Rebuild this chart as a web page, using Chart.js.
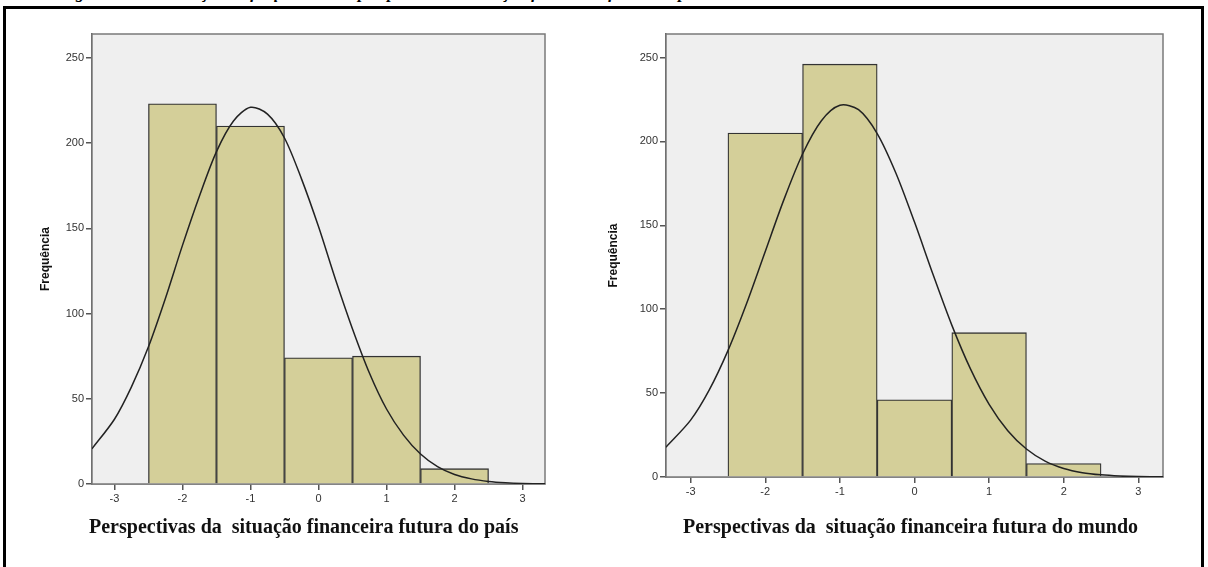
<!DOCTYPE html>
<html>
<head>
<meta charset="utf-8">
<script src="https://cdn.jsdelivr.net/npm/chart.js@4/dist/chart.umd.min.js"></script>
<style>
  body { margin: 0; width: 1208px; height: 567px; background: #fff; overflow: hidden; position: relative; }
  .caption { position: absolute; left: 60px; top: -17px; font: italic bold 17px "Liberation Serif", serif; white-space: pre; }
  .frame { position: absolute; left: 3px; top: 6px; width: 1195px; height: 600px; border: 3px solid #000; background: #fff; }
  canvas { position: absolute; top: 0; }
  #cPais { left: 0; }
  #cMundo { left: 575px; }
  .xtitle { position: absolute; top: 515px; font: bold 20px "Liberation Serif", serif; white-space: pre; color: #111; }
</style>
</head>
<body>
<div class="caption">Figura 2 – Distribuição de frequência das perspectivas da situação financeira futura do país e do mundo</div>
<div class="frame"></div>
<canvas id="cPais" width="600" height="520"></canvas>
<canvas id="cMundo" width="633" height="520"></canvas>
<div class="xtitle" style="left:89px">Perspectivas da  situação financeira futura do país</div>
<div class="xtitle" style="left:683px">Perspectivas da  situação financeira futura do mundo</div>

<script>
const binCenters = [-2, -1, 0, 1, 2];
const paisFreq = [223, 210, 74, 75, 9];
const mundoFreq = [205, 246, 46, 86, 8];

// normal curve
const curveX = [-3.33, -3, -2.75, -2.5, -2.25, -2, -1.75, -1.5, -1.25, -1, -0.75, -0.5, -0.25,
                0, 0.25, 0.5, 0.75, 1, 1.25, 1.5, 1.75, 2, 2.25, 2.5, 2.75, 3, 3.33];
const paisCurve = [20.7, 38, 57, 80.5, 109, 140, 169, 195, 213, 221, 217, 203, 179,
                   151, 120, 91, 65, 44, 28.7, 17.6, 10.2, 5.6, 3, 1.5, 0.7, 0.3, 0.1];
const mundoCurve = [17.8, 33.9, 51.9, 75.3, 103.4, 134.4, 165.3, 192.5, 212.2, 221.5, 218.9, 204.7, 181.2,
                    151.9, 120.5, 90.5, 64.4, 43.3, 27.6, 16.7, 9.5, 5.1, 2.6, 1.3, 0.6, 0.25, 0.1];

const xTicks = [-3, -2, -1, 0, 1, 2, 3];
const yTicks = [0, 50, 100, 150, 200, 250];

const plotBox = {
  id: 'plotBox',
  beforeDatasetsDraw(chart) {
    const a = chart.chartArea, ctx = chart.ctx;
    ctx.save();
    ctx.fillStyle = '#efefef';
    ctx.fillRect(a.left, a.top, a.right - a.left, a.bottom - a.top);
    ctx.strokeStyle = '#7a7a7a';
    ctx.lineWidth = 1.5;
    ctx.strokeRect(a.left, a.top, a.right - a.left, a.bottom - a.top);
    ctx.restore();
  }
};

function makeChart(id, freq, curve, padLeft, padRight, yWidth, xHeight) {
  new Chart(document.getElementById(id), {
    data: {
      datasets: [
        {
          type: 'line',
          data: curveX.map((x, i) => ({ x: x, y: curve[i] })),
          borderColor: '#222',
          borderWidth: 1.5,
          pointRadius: 0,
          tension: 0.3,
          fill: false
        },
        {
          type: 'bar',
          data: binCenters.map((x, i) => ({ x: x, y: freq[i] })),
          backgroundColor: '#d4cf99',
          borderColor: '#333',
          borderWidth: 1.3,
          barPercentage: 1,
          categoryPercentage: 1
        }
      ]
    },
    options: {
      responsive: false,
      devicePixelRatio: 1,
      animation: false,
      layout: { padding: { left: padLeft, right: padRight, top: 34, bottom: 0 } },
      plugins: { legend: { display: false }, tooltip: { enabled: false } },
      scales: {
        x: {
          type: 'linear',
          offset: false,
          min: -3.33,
          max: 3.33,
          afterBuildTicks: s => { s.ticks = xTicks.map(v => ({ value: v })); },
          afterFit: s => { s.height = xHeight; },
          grid: { offset: false, drawOnChartArea: false, drawTicks: true, tickLength: 6, color: '#555', lineWidth: 1.5 },
          border: { color: '#555', width: 1.5 },
          ticks: { font: { family: 'Liberation Sans', size: 11 }, color: '#333', padding: 2, maxRotation: 0 }
        },
        y: {
          min: 0,
          max: 264,
          afterBuildTicks: s => { s.ticks = yTicks.map(v => ({ value: v })); },
          afterFit: s => { s.width = yWidth; },
          grid: { drawOnChartArea: false, drawTicks: true, tickLength: 6, color: '#555', lineWidth: 1.5 },
          border: { color: '#555', width: 1.5 },
          ticks: { font: { family: 'Liberation Sans', size: 11 }, color: '#333', padding: 2 },
          title: {
            display: true,
            text: 'Frequência',
            font: { family: 'Liberation Sans', size: 12, weight: 'bold' },
            color: '#111',
            padding: { top: 0, bottom: 0 }
          }
        }
      }
    },
    plugins: [plotBox]
  });
}

makeChart('cPais', paisFreq, paisCurve, 38, 55, 54, 36);
makeChart('cMundo', mundoFreq, mundoCurve, 31, 45, 60, 43);
</script>
</body>
</html>
